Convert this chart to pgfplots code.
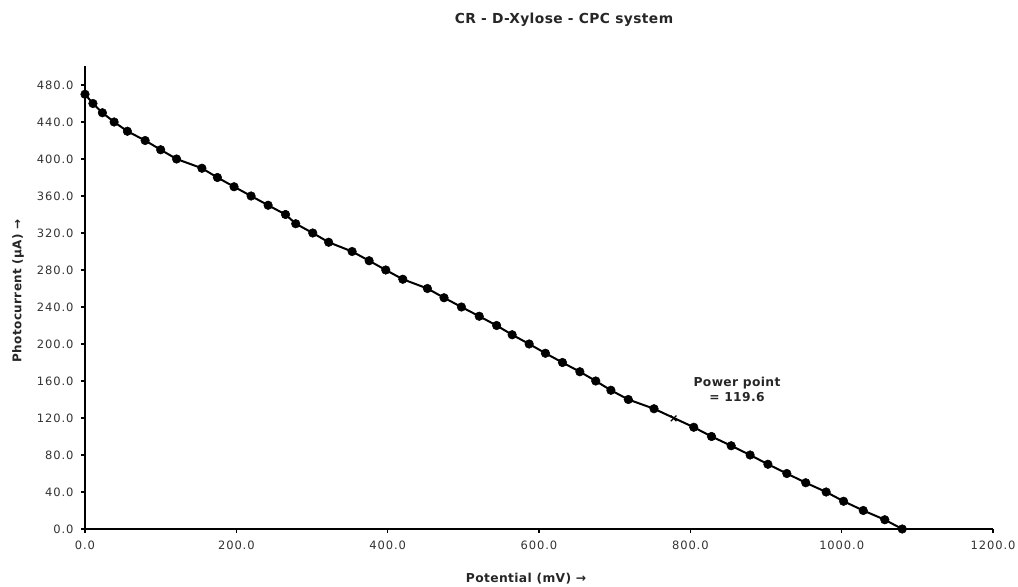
\documentclass[border=0pt]{standalone}
\usepackage{fontspec}
\setmainfont{DejaVu Sans}
\newfontfamily\tickfont[LetterSpace=8]{DejaVu Sans}
\newfontfamily\labfont[LetterSpace=3]{DejaVu Sans}
\usepackage{pgfplots}
\pgfplotsset{compat=1.18}
\begin{document}
\begin{tikzpicture}
\useasboundingbox (-85bp,-58bp) rectangle (933bp,529bp);
\begin{axis}[
 scale only axis, width=908bp, height=462.5bp,
 at={(0,0)}, anchor=south west,
 xmin=0, xmax=1200, ymin=0, ymax=500,
 axis x line=bottom, axis y line=left,
 axis line style={-, line width=2.5bp, black},
 xtick={0,200,...,1200}, ytick={0,40,...,480},
 tick align=outside, major tick length=4bp,
 tick style={line width=1.2bp, black},
 /pgf/number format/fixed, /pgf/number format/fixed zerofill,
 /pgf/number format/precision=1, /pgf/number format/1000 sep={},
 /pgf/number format/assume math mode=true,
 ticklabel style={font=\tickfont\fontsize{11.5bp}{13bp}\selectfont, text=black!80},
 yticklabel style={xshift=-4bp},
 xticklabel style={yshift=-4bp},
 clip=false,
 every axis title shift=0pt,
 title={CR - D-Xylose - CPC system},
 title style={at={(axis description cs:0.5275,1.1005)}, anchor=center, font=\labfont\bfseries\fontsize{13.8bp}{15bp}\selectfont, text=black!85},
 xlabel={Potential (mV) →},
 xlabel style={at={(axis description cs:0.4857,-0.108)}, anchor=center, font=\labfont\bfseries\fontsize{12.3bp}{14bp}\selectfont, text=black!85},
 ylabel={Photocurrent (µA) →},
 ylabel style={at={(axis description cs:-0.0738,0.515)}, anchor=center, rotate=0, font=\labfont\bfseries\fontsize{12bp}{14bp}\selectfont, text=black!85},
]
\addplot[black, line width=2bp, mark=*, mark size=4.3bp, mark options={fill=black, line width=0.5bp}] coordinates {
(0,470) (10.5,460) (23,450) (38.5,440) (56,430) (79.5,420) (100,410) (121,400)
(154.5,390) (175,380) (197,370) (219.5,360) (242,350) (265,340) (278.5,330)
(301,320) (322,310) (353,300) (375.5,290) (397.5,280) (420,270) (452.5,260)
(474.5,250) (497.5,240) (521,230) (544,220) (564.5,210) (587,200) (608.5,190)
(631,180) (654,170) (675,160) (695,150) (718,140) (752,130) (804.5,110)
(828,100) (854,90) (879,80) (902.5,70) (927.5,60) (952.5,50) (979.5,40)
(1002.5,30) (1028.5,20) (1057,10) (1080,0)
};
\addplot[only marks, black, mark=x, mark size=4bp, mark options={line width=1.3bp}] coordinates {(778,119.6)};
\node[font=\labfont\bfseries\fontsize{12.3bp}{15.6bp}\selectfont, text=black!85, align=center] at (axis cs:861.7,150.8) {Power point\\= 119.6};
\end{axis}
\end{tikzpicture}
\end{document}
